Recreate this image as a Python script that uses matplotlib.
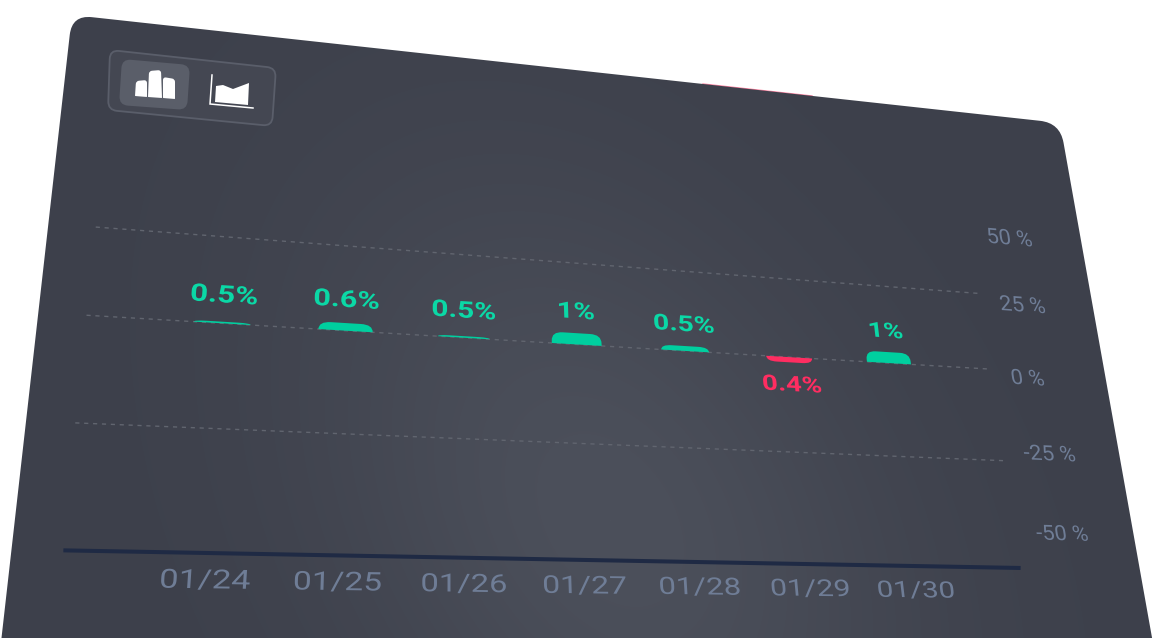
import numpy as np
import matplotlib
matplotlib.use('Agg')
from matplotlib import pyplot as plt
from matplotlib.patches import PathPatch
from matplotlib.path import Path
from matplotlib.patheffects import AbstractPathEffect
from matplotlib.transforms import Affine2D, Transform

"""Tilted dark card with a small bar chart, drawn through a perspective transform"""

dates = ['01/24', '01/25', '01/26', '01/27', '01/28', '01/29', '01/30']
bar_heights = [0.46, 2.2, 0.46, 3.4, 1.5, -1.4, 3.5]  # in axis %
bar_labels = ['0.5%', '0.6%', '0.5%', '1%', '0.5%', '0.4%', '1%']
grid_levels = [25, 0, -25]
axis_level = -50
tick_labels = ['50 %', '25 %', '0 %', '-25 %', '-50 %']

# the grid lines are not evenly spaced on the card, so percent goes through this scale first
scale_percent = [-70, -50, -25, 0, 25, 60]
scale_plane = [-70, -50, -22, 3.2, 25, 60]

GREEN = '#00cf9f'
GREEN_TEXT = '#0bd8a6'
RED = '#ff2d61'
TICK = '#6f7d96'

# plane (category, percent) -> pixel, from four spots on the picture
src = [(0, 25), (6, 25), (0, -50), (6, -50)]
dst = [(228, 237), (880, 286), (207, 553), (913, 566)]
A = []
b = []
for (x, y), (u, v) in zip(src, dst):
    A.append([x, y, 1, 0, 0, 0, -u * x, -u * y])
    A.append([0, 0, 0, x, y, 1, -v * x, -v * y])
    b += [u, v]
H = np.append(np.linalg.solve(np.array(A, float), np.array(b, float)), 1).reshape(3, 3)


class Plane(Transform):
    input_dims = 2
    output_dims = 2

    def transform_non_affine(self, values):
        values = np.asarray(values, float)
        level = np.interp(values[:, 1], scale_percent, scale_plane)
        pts = np.column_stack([values[:, 0], level, np.ones(len(values))]) @ H.T
        return pts[:, :2] / pts[:, 2:]


class Warp(AbstractPathEffect):
    """Widen and slant a text about its middle, the card's tilt does this to the letters"""

    def __init__(self, stretch, slant):
        self.stretch = stretch
        self.slant = slant

    def draw_path(self, renderer, gc, tpath, affine, rgbFace=None):
        box = tpath.get_extents()
        cx = (box.x0 + box.x1) / 2
        cy = (box.y0 + box.y1) / 2
        warp = Affine2D().translate(-cx, -cy)
        warp = warp + Affine2D(np.array([[self.stretch, self.slant, 0], [0, 1, 0], [0, 0, 1.0]]))
        warp = warp + Affine2D().translate(cx, cy)
        renderer.draw_path(gc, tpath, warp + affine, rgbFace)


def rounded(points, radii):
    """Closed path through the corner points, each corner rounded by its radius"""
    pts = np.array(points, float)
    verts = []
    codes = []
    n = len(pts)
    for i in range(n):
        p = pts[i]
        a = pts[i - 1] - p
        c = pts[(i + 1) % n] - p
        r = radii[i]
        start = p + a / np.linalg.norm(a) * r
        end = p + c / np.linalg.norm(c) * r
        verts += [start, p, end]
        codes += [Path.MOVETO if i == 0 else Path.LINETO, Path.CURVE3, Path.CURVE3]
    verts.append(verts[0])
    codes.append(Path.CLOSEPOLY)
    return Path(verts, codes)


def bar_path(x, h, half=0.225):
    rx = 0.1
    ry = min(abs(h), 2.6) * np.sign(h)
    verts = [(x - half, 0), (x - half, h - ry), (x - half, h), (x - half + rx, h),
             (x + half - rx, h), (x + half, h), (x + half, h - ry), (x + half, 0), (x - half, 0)]
    codes = [Path.MOVETO, Path.LINETO, Path.CURVE3, Path.CURVE3,
             Path.LINETO, Path.CURVE3, Path.CURVE3, Path.LINETO, Path.CLOSEPOLY]
    return Path(verts, codes)


def tilted_text(x, y, s, size, color, stretch=1.0, weight='normal'):
    """Text centred at a plane spot, turned and slanted along the plane there"""
    plane = Plane()
    p = plane.transform(np.array([[x - 0.1, y], [x + 0.1, y], [x, y - 1], [x, y + 1]], float))
    along = p[1] - p[0]
    up = p[3] - p[2]
    along = np.array([along[0], -along[1]])
    up = np.array([up[0], -up[1]])
    along = along / np.linalg.norm(along)
    normal = np.array([-along[1], along[0]])
    slant = (up @ along) / (up @ normal)
    angle = np.degrees(np.arctan2(along[1], along[0]))
    centre = plane.transform(np.array([[x, y]], float))[0]
    ax.text(centre[0], centre[1], s, fontsize=size, color=color, fontweight=weight,
            ha='center', va='center', rotation=angle, rotation_mode='anchor',
            path_effects=[Warp(stretch, slant)])


fig = plt.figure(figsize=(11.54, 6.38), dpi=100)
ax = fig.add_axes([0, 0, 1, 1])
ax.set_xlim(0, 1154)
ax.set_ylim(638, 0)
ax.axis('off')
plt.rcParams['font.family'] = ['Roboto', 'DejaVu Sans']

# faint pink edge peeking out behind the card
ax.plot([703, 812], [84, 96], color='#ff2d61', lw=1.0, alpha=0.6, zorder=1)

# card with its soft light patch
card = rounded([(72, 15), (1060, 123), (1156, 660), (-1, 660)], [20, 20, 0.1, 0.1])
card_patch = PathPatch(card, fc='none', ec='none', transform=ax.transData, zorder=2)
ax.add_patch(card_patch)
yy, xx = np.mgrid[0:638, 0:1154]
dx = (xx - 610 - (yy - 520) * 0.3) / 270.0
dy = (yy - 520) / 340.0
glow = np.exp(-(dx ** 2 + dy ** 2))
base = np.array([0x3d, 0x40, 0x4b]) / 255.0
light = np.array([0x4c, 0x50, 0x5b]) / 255.0
img = base + (light - base) * glow[..., None]
im = ax.imshow(img, extent=(0, 1154, 638, 0), aspect='auto', zorder=2, interpolation='bilinear')
im.set_clip_path(card_patch)

# chart type switch
ax.add_patch(PathPatch(rounded([(110, 50), (276, 68), (272, 126), (108, 110)], [9, 9, 9, 9]),
                       fc='#444752', ec='#5a5e6a', lw=1.3, zorder=3))
ax.add_patch(PathPatch(rounded([(122, 59), (190, 65), (187, 110), (119, 105)], [9, 9, 9, 9]),
                       fc='#5a5e69', ec='none', zorder=4))
icon_bars = [[(136, 81), (147, 80), (147, 97), (135, 96)],
             [(149, 71), (161, 70), (162, 98), (148, 97)],
             [(163, 77), (175, 79), (175, 99), (163, 98)]]
for pts in icon_bars:
    ax.add_patch(PathPatch(rounded(pts, [3, 3, 0.5, 0.5]), fc='white', ec='none', zorder=5))
ax.plot([212, 210, 253], [75, 104, 108], color='white', lw=1.1, solid_joinstyle='miter', zorder=5)
ax.fill([216, 223, 233, 249, 248, 215], [86, 85, 89, 83, 105, 102], color='white', lw=0, zorder=5)

plane_tr = Plane() + ax.transData

# grid and axis
for level in grid_levels:
    ax.plot([-1.05, 7.05], [level, level], transform=plane_tr, color='#61656f', lw=1.0,
            dashes=(3, 3.4), zorder=6)
ax.plot([-1.04, 7.07], [axis_level, axis_level], transform=plane_tr, color='#1f2a44', lw=2.9,
        solid_capstyle='butt', zorder=6)

# bars and their labels
label_levels = [7.8, 8.8, 7.9, 9.75, 8.0, -7.6, 10.0]
for i, h in enumerate(bar_heights):
    col = GREEN if h > 0 else RED
    ax.add_patch(PathPatch(bar_path(i, h), fc=col, ec='none', transform=plane_tr, zorder=7))
    text_col = GREEN_TEXT if h > 0 else RED
    tilted_text(i, label_levels[i], bar_labels[i], 17.4 - 0.42 * i, text_col, stretch=1.3, weight='bold')

# x labels
for i, d in enumerate(dates):
    tilted_text(i, -56.1, d, 19.0 - 0.45 * i, TICK, stretch=1.3)

# y labels sit on their own even steps, not on the grid lines
tick_x = [7.48, 7.51, 7.44, 7.55, 7.55]
tick_y = [42.3, 21.8, -2.2, -22.9, -42.1]
for tx, ty, s in zip(tick_x, tick_y, tick_labels):
    tilted_text(tx, ty, s, 15, TICK, stretch=1.05)

fig.savefig('out.png', dpi=100, facecolor='white')
